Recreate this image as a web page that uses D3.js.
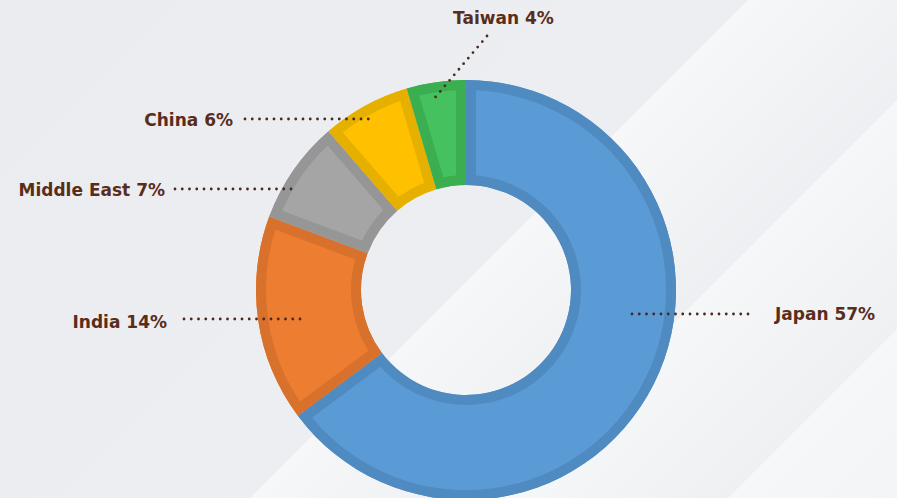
<!DOCTYPE html>
<html>
<head>
<meta charset="utf-8">
<script src="https://cdn.jsdelivr.net/npm/d3@7/dist/d3.min.js"></script>
<style>
  html, body { margin: 0; padding: 0; background: #ebecef; }
  svg { display: block; }
</style>
</head>
<body>
<svg id="chart" width="897" height="498"></svg>
<script>
// ---- data ----
const categories = ["Japan", "India", "Middle East", "China", "Taiwan"];
const shares     = [57, 14, 7, 6, 4];
const labels     = ["Japan 57%", "India 14%", "Middle East 7%", "China 6%", "Taiwan 4%"];

// ---- styles / layout (kept separate from data) ----
const fills   = ["#5b9bd5", "#ed7d31", "#a5a5a5", "#ffc000", "#45c25f"];
const borders = ["#4f8ac0", "#d8712c", "#969696", "#e6b000", "#3aae50"];
// label anchor, baseline, leader endpoints
const labelLayout = [
  { x: 775, y: 320, anchor: "start", line: [[632, 314], [755, 314]] },
  { x: 167, y: 328, anchor: "end",   line: [[184, 319], [307, 319]] },
  { x: 165, y: 196, anchor: "end",   line: [[175, 189], [298, 189]] },
  { x: 233, y: 126, anchor: "end",   line: [[245, 119], [372, 119]] },
  { x: 453, y: 24,  anchor: "start", line: [[487, 36],  [433, 100]] }
];

const W = 897, H = 498;
const cx = 466, cy = 290, rOuter = 210, rInner = 105, borderW = 10;

const svg = d3.select("#chart");
const defs = svg.append("defs");

// ---- background diagonal bands ----
const bands = [
  { s1: -10,  s2: 748,  c1: "#ebecef", c2: "#edeef1" },
  { s1: 748,  s2: 997,  c1: "#f6f7f8", c2: "#eeeff2" },
  { s1: 997,  s2: 1226, c1: "#f6f7f8", c2: "#eff0f2" },
  { s1: 1226, s2: 1500, c1: "#f6f7f8", c2: "#f2f3f5" }
];
bands.forEach((b, i) => {
  const g = defs.append("linearGradient")
    .attr("id", "bg" + i).attr("gradientUnits", "userSpaceOnUse")
    .attr("x1", b.s1 / 2).attr("y1", b.s1 / 2)
    .attr("x2", b.s2 / 2).attr("y2", b.s2 / 2);
  g.append("stop").attr("offset", 0).attr("stop-color", b.c1);
  g.append("stop").attr("offset", 1).attr("stop-color", b.c2);
  svg.append("polygon")
    .attr("points", [[b.s1, 0], [b.s2, 0], [b.s2 - H, H], [b.s1 - H, H]].map(p => p.join(",")).join(" "))
    .attr("fill", `url(#bg${i})`);
});

// ---- donut ----
const pie = d3.pie().sort(null).value(d => d.v).startAngle(0).endAngle(2 * Math.PI);
const arc = d3.arc().innerRadius(rInner).outerRadius(rOuter);
const arcs = pie(categories.map((c, i) => ({ c, v: shares[i], i })));

const g = svg.append("g").attr("transform", `translate(${cx},${cy})`);
arcs.forEach((a, i) => {
  const d = arc(a);
  defs.append("clipPath").attr("id", "clip" + i)
    .append("path").attr("d", d);
  g.append("path").attr("d", d).attr("fill", fills[i]);
  g.append("path").attr("d", d)
    .attr("fill", "none")
    .attr("stroke", borders[i])
    .attr("stroke-width", borderW * 2)
    .attr("stroke-linejoin", "miter")
    .attr("clip-path", `url(#clip${i})`);
});

// ---- labels and dotted leaders ----
const textColor = "#5a2d1b";
labelLayout.forEach((L, i) => {
  svg.append("line")
    .attr("x1", L.line[0][0]).attr("y1", L.line[0][1])
    .attr("x2", L.line[1][0]).attr("y2", L.line[1][1])
    .attr("stroke", "#4a2a1e").attr("stroke-width", 2.8)
    .attr("stroke-linecap", "round").attr("stroke-dasharray", "0 7.25");
  svg.append("text")
    .attr("x", L.x).attr("y", L.y)
    .attr("text-anchor", L.anchor)
    .attr("font-family", "'DejaVu Sans', sans-serif")
    .attr("font-weight", 700).attr("font-size", 17)
    .attr("fill", textColor)
    .text(labels[i]);
});
</script>
</body>
</html>
